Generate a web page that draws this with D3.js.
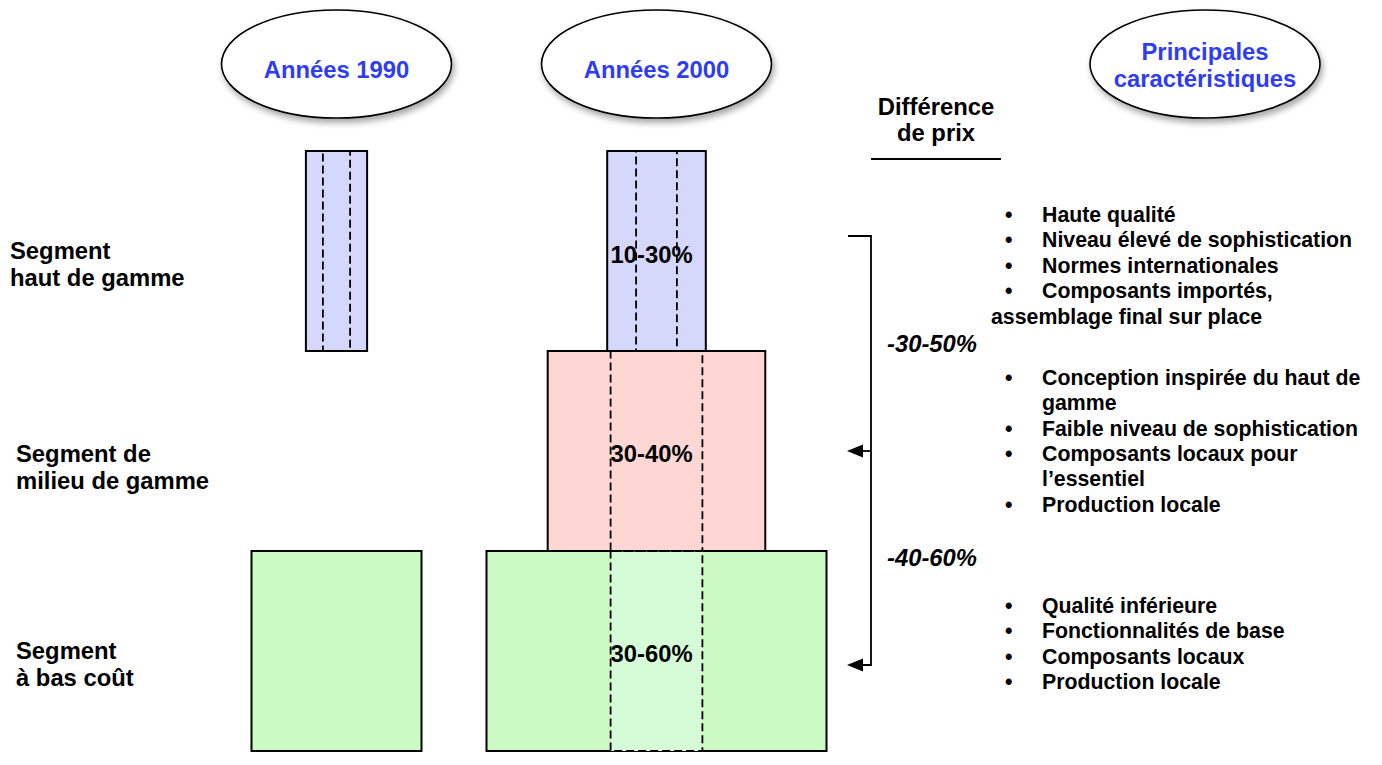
<!DOCTYPE html>
<html><head><meta charset="utf-8">
<script src="https://cdn.jsdelivr.net/npm/d3@7"></script>
<style>
body{margin:0;background:#fff}
svg{display:block}
text{font-family:"Liberation Sans",Arial,Helvetica,sans-serif;font-weight:bold}
</style>
</head><body>
<svg id="chart" width="1382" height="765"></svg>
<script>
// ---------- data ----------
const periods = ["Années 1990", "Années 2000"];
const segments = ["haut", "milieu", "bas"];
const segmentLabels = [["Segment", "haut de gamme"], ["Segment de", "milieu de gamme"], ["Segment", "à bas coût"]];
// relative market size (bar width) per segment
const size1990 = [18, 0, 50];
const size2000 = [29, 64, 100];
// dashed "core" width inside each bar
const core1990 = [8, 0, 0];
const core2000 = [12, 27, 27];
const priceRange2000 = ["10-30%", "30-40%", "30-60%"];
const priceGaps = ["-30-50%", "-40-60%"];
const priceTitle = ["Différence", "de prix"];
const featureTitle = ["Principales", "caractéristiques"];
const featuresHigh = ["Haute qualité", "Niveau élevé de sophistication", "Normes internationales", "Composants importés,"];
const featuresHighTail = ["assemblage final sur place"];
const featuresMid = ["Conception inspirée du haut de", "+gamme", "Faible niveau de sophistication", "Composants locaux pour", "+l’essentiel", "Production locale"];
const featuresLow = ["Qualité inférieure", "Fonctionnalités de base", "Composants locaux", "Production locale"];

// ---------- styles ----------
const fills = {haut: "#d5d7fb", milieu: "#fed6d4", bas: "#cbfac2"};
const coreFillLow = "#d6fcd7";
const blue = "#2e3df4";
const FS = 23.8, FSB = 21.3;

const svg = d3.select("#chart");
const defs = svg.append("defs");
const f = defs.append("filter").attr("id", "shadow").attr("x", "-20%").attr("y", "-20%").attr("width", "140%").attr("height", "150%");
f.append("feDropShadow").attr("dx", 2).attr("dy", 4).attr("stdDeviation", 3).attr("flood-color", "#000").attr("flood-opacity", 0.35);

// ---------- scales ----------
const xCol = d3.scalePoint().domain(periods).range([336.5, 656.5]);
const w = d3.scaleLinear().domain([0, 100]).range([0, 340]);
const y = d3.scaleBand().domain(segments).range([151, 751]).paddingInner(0);
const bh = y.bandwidth();

// ---------- header ellipses ----------
const ellipses = [
  {cx: xCol(periods[0]), lines: [periods[0]]},
  {cx: xCol(periods[1]), lines: [periods[1]]},
  {cx: 1205, lines: featureTitle}
];
const eg = svg.append("g");
ellipses.forEach(e => {
  eg.append("ellipse").attr("cx", e.cx).attr("cy", 64).attr("rx", 115).attr("ry", 54)
    .attr("fill", "#fff").attr("stroke", "#000").attr("stroke-width", 1.6).attr("filter", "url(#shadow)");
  const y0 = e.lines.length === 1 ? 78 : 60;
  e.lines.forEach((t, i) => {
    eg.append("text").attr("x", e.cx).attr("y", y0 + i * 27).attr("text-anchor", "middle")
      .attr("font-size", FS).attr("fill", blue).text(t);
  });
});

// ---------- bars ----------
const bars = [];
segments.forEach((s, i) => {
  if (size1990[i] > 0) bars.push({p: periods[0], s, v: size1990[i], core: core1990[i]});
  if (size2000[i] > 0) bars.push({p: periods[1], s, v: size2000[i], core: core2000[i]});
});
const order = ["bas", "milieu", "haut"];
bars.sort((a, b) => order.indexOf(a.s) - order.indexOf(b.s));

const bg = svg.append("g");
bars.forEach(d => {
  bg.append("rect").attr("x", xCol(d.p) - w(d.v) / 2).attr("y", y(d.s))
    .attr("width", w(d.v)).attr("height", bh)
    .attr("fill", fills[d.s]).attr("stroke", "#000").attr("stroke-width", 2);
});
bars.forEach(d => {
  if (!d.core) return;
  bg.append("rect").attr("x", xCol(d.p) - w(d.core) / 2).attr("y", y(d.s))
    .attr("width", w(d.core)).attr("height", bh)
    .attr("fill", d.s === "bas" ? coreFillLow : "none")
    .attr("stroke", "#000").attr("stroke-width", 1.8).attr("stroke-dasharray", "8,4");
});

// price range labels in 2000 column
segments.forEach((s, i) => {
  bg.append("text").attr("x", xCol(periods[1]) - w(core2000[1]) / 2)
    .attr("y", y(s) + bh / 2 + (i === 0 ? 12 : 11)).attr("font-size", FS).attr("fill", "#000")
    .text(priceRange2000[i]);
});

// ---------- segment labels ----------
segments.forEach((s, i) => {
  const x0 = i === 0 ? 10 : 16;
  const yb = [259, 462, 659][i];
  segmentLabels[i].forEach((t, j) => {
    svg.append("text").attr("x", x0).attr("y", yb + j * 27).attr("font-size", FS).attr("fill", "#000").text(t);
  });
});

// ---------- price difference bracket ----------
const bx = 871;
const yTop = y("haut") + bh / 2 - 15;
const yA1 = y("milieu") + bh / 2;
const yA2 = y("bas") + bh / 2 + 14;
const kg = svg.append("g").attr("stroke", "#000").attr("stroke-width", 1.8).attr("fill", "none");
kg.append("path").attr("d", `M${bx - 23},${yTop} H${bx} V${yA2} H${bx - 8}`);
kg.append("path").attr("d", `M${bx},${yA1} H${bx - 8}`);
[yA1, yA2].forEach(ya => {
  svg.append("path").attr("d", `M${bx - 24},${ya} L${bx - 8},${ya - 6.5} L${bx - 8},${ya + 6.5} Z`).attr("fill", "#000");
});
svg.append("text").attr("x", 887).attr("y", (yTop + yA1) / 2 + 8).attr("font-size", FS)
  .attr("font-style", "italic").text(priceGaps[0]);
svg.append("text").attr("x", 887).attr("y", (yA1 + yA2) / 2 + 8).attr("font-size", FS)
  .attr("font-style", "italic").text(priceGaps[1]);

priceTitle.forEach((t, i) => {
  svg.append("text").attr("x", 936).attr("y", 115 + i * 26).attr("text-anchor", "middle").attr("font-size", FS).text(t);
});
svg.append("line").attr("x1", 871).attr("x2", 1001).attr("y1", 159).attr("y2", 159).attr("stroke", "#000").attr("stroke-width", 1.8);

// ---------- features ----------
function featureList(items, y0, tail) {
  items.forEach((t, i) => {
    const cont = t.startsWith("+");
    const yy = y0 + i * 25.3;
    if (!cont) svg.append("text").attr("x", 1005).attr("y", yy).attr("font-size", FSB).text("•");
    svg.append("text").attr("x", 1042).attr("y", yy).attr("font-size", FSB).text(cont ? t.slice(1) : t);
  });
  if (tail) tail.forEach((t, j) => {
    svg.append("text").attr("x", 991).attr("y", y0 + (items.length + j) * 25.3 + 1).attr("font-size", FSB).text(t);
  });
}
featureList(featuresHigh, 222, featuresHighTail);
featureList(featuresMid, 385, null);
featureList(featuresLow, 613, null);
</script>
</body></html>
